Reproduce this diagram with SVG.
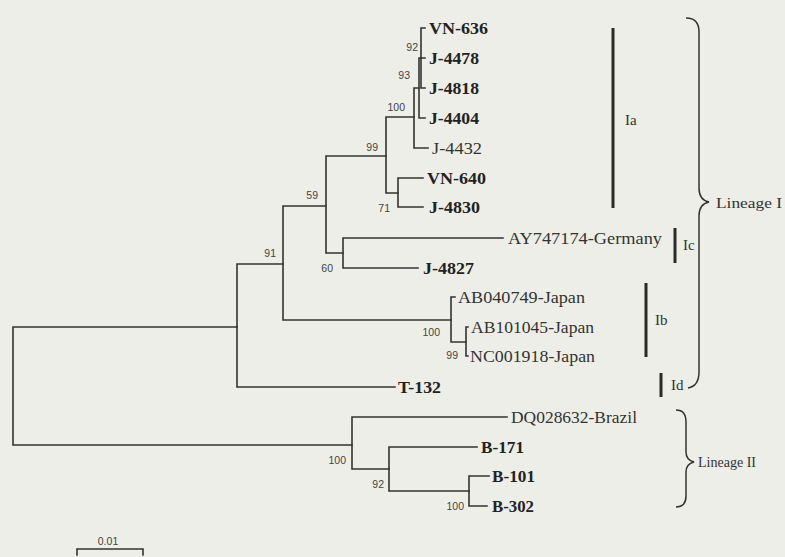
<svg xmlns="http://www.w3.org/2000/svg" width="785" height="557" viewBox="0 0 785 557">
<style>
.br{fill:none;stroke:#333;stroke-width:1.6;stroke-linecap:square}
.bar{fill:none;stroke:#2a2a2a;stroke-width:3}
.brace{fill:none;stroke:#333;stroke-width:1.5}
.tb{font-family:"Liberation Serif",serif;font-size:17px;font-weight:bold;fill:#222}
.tn{font-family:"Liberation Serif",serif;font-size:17px;fill:#333}
.bs{font-family:"Liberation Sans",sans-serif;font-size:10.5px;fill:#444;text-anchor:end}
.gl{font-family:"Liberation Serif",serif;font-size:15px;fill:#333}
</style>
<rect width="785" height="557" fill="#eeeee8"/>
<g id="connectors">
<path class="br" d="M13,327V445M13,327H237M13,445H352"/>
<path class="br" d="M237,264V387M237,264H283M237,387H395"/>
<path class="br" d="M283,206V320M283,206H326M283,320H451"/>
<path class="br" d="M326,156V253M326,156H386M326,253H343"/>
<path class="br" d="M386,117V193M386,117H414M386,193H398"/>
<path class="br" d="M398,178V207M398,178H423M398,207H423"/>
<path class="br" d="M414,88V148M414,88H419M414,148H428"/>
<path class="br" d="M419,58V118M419,58H421M419,118H425"/>
<path class="br" d="M421,28V88M421,28H425M421,58H425M421,88H425"/>
<path class="br" d="M343,238V268M343,238H503M343,268H418"/>
<path class="br" d="M451,297V342M451,297H455M451,342H466"/>
<path class="br" d="M466,327V356M466,327H468M466,356H468"/>
<path class="br" d="M352,417V469M352,417H507M352,469H389"/>
<path class="br" d="M389,447V491M389,447H477M389,491H469"/>
<path class="br" d="M469,476V506M469,476H489M469,506H487"/>
</g>
<g id="taxa">
<text id="VN-636" class="tb" x="429" y="34" textLength="59" lengthAdjust="spacingAndGlyphs">VN-636</text>
<text id="J-4478" class="tb" x="429" y="64" textLength="50" lengthAdjust="spacingAndGlyphs">J-4478</text>
<text id="J-4818" class="tb" x="429" y="94" textLength="50" lengthAdjust="spacingAndGlyphs">J-4818</text>
<text id="J-4404" class="tb" x="429" y="124" textLength="50" lengthAdjust="spacingAndGlyphs">J-4404</text>
<text id="J-4432" class="tn" x="432" y="154" textLength="50" lengthAdjust="spacingAndGlyphs">J-4432</text>
<text id="VN-640" class="tb" x="427" y="184" textLength="59" lengthAdjust="spacingAndGlyphs">VN-640</text>
<text id="J-4830" class="tb" x="429" y="213" textLength="51" lengthAdjust="spacingAndGlyphs">J-4830</text>
<text id="AY747174" class="tn" x="508" y="244" textLength="154" lengthAdjust="spacingAndGlyphs">AY747174-Germany</text>
<text id="J-4827" class="tb" x="423" y="274" textLength="51" lengthAdjust="spacingAndGlyphs">J-4827</text>
<text id="AB040749" class="tn" x="458" y="303" textLength="127" lengthAdjust="spacingAndGlyphs">AB040749-Japan</text>
<text id="AB101045" class="tn" x="471" y="333" textLength="123" lengthAdjust="spacingAndGlyphs">AB101045-Japan</text>
<text id="NC001918" class="tn" x="470" y="362" textLength="125" lengthAdjust="spacingAndGlyphs">NC001918-Japan</text>
<text id="T-132" class="tb" x="398" y="393" textLength="43" lengthAdjust="spacingAndGlyphs">T-132</text>
<text id="DQ028632" class="tn" x="511" y="423" textLength="126" lengthAdjust="spacingAndGlyphs">DQ028632-Brazil</text>
<text id="B-171" class="tb" x="481" y="453" textLength="43" lengthAdjust="spacingAndGlyphs">B-171</text>
<text id="B-101" class="tb" x="492" y="482" textLength="43" lengthAdjust="spacingAndGlyphs">B-101</text>
<text id="B-302" class="tb" x="492" y="512" textLength="42" lengthAdjust="spacingAndGlyphs">B-302</text>
</g>
<g id="bootstrap">
<text class="bs" x="418" y="51">92</text>
<text class="bs" x="410" y="79">93</text>
<text class="bs" x="405" y="111">100</text>
<text class="bs" x="378" y="151">99</text>
<text class="bs" x="318" y="199">59</text>
<text class="bs" x="276" y="257">91</text>
<text class="bs" x="390" y="212">71</text>
<text class="bs" x="333" y="272">60</text>
<text class="bs" x="440" y="336">100</text>
<text class="bs" x="458" y="359">99</text>
<text class="bs" x="346" y="464">100</text>
<text class="bs" x="384" y="488">92</text>
<text class="bs" x="464" y="510">100</text>
</g>
<g id="group-Ia"><path class="bar" d="M613,28V208"/><text class="gl" x="625" y="125">Ia</text></g>
<g id="group-Ic"><path class="bar" d="M675,228V263"/><text class="gl" x="683" y="250">Ic</text></g>
<g id="group-Ib"><path class="bar" d="M646,283V357"/><text class="gl" x="655" y="325">Ib</text></g>
<g id="group-Id"><path class="bar" d="M661,373V397"/><text class="gl" x="671" y="390">Id</text></g>
<g id="lineage-I">
<path class="brace" d="M686,18Q699,18 699,32V188Q699,200 709,202Q699,204 699,216V372Q699,386 688,388"/>
<text class="gl" x="716" y="208" textLength="66" lengthAdjust="spacingAndGlyphs">Lineage I</text>
</g>
<g id="lineage-II">
<path class="brace" d="M676,410Q686,410 686,422V452Q686,460 694,462Q686,464 686,472V496Q686,507 676,507"/>
<text class="gl" x="698" y="467" textLength="58" lengthAdjust="spacingAndGlyphs">Lineage II</text>
</g>
<g id="scale-bar">
<path class="br" d="M77,549H143M77,549V555M143,549V555"/>
<text class="bs" x="108" y="545" style="text-anchor:middle">0.01</text>
</g>
</svg>
